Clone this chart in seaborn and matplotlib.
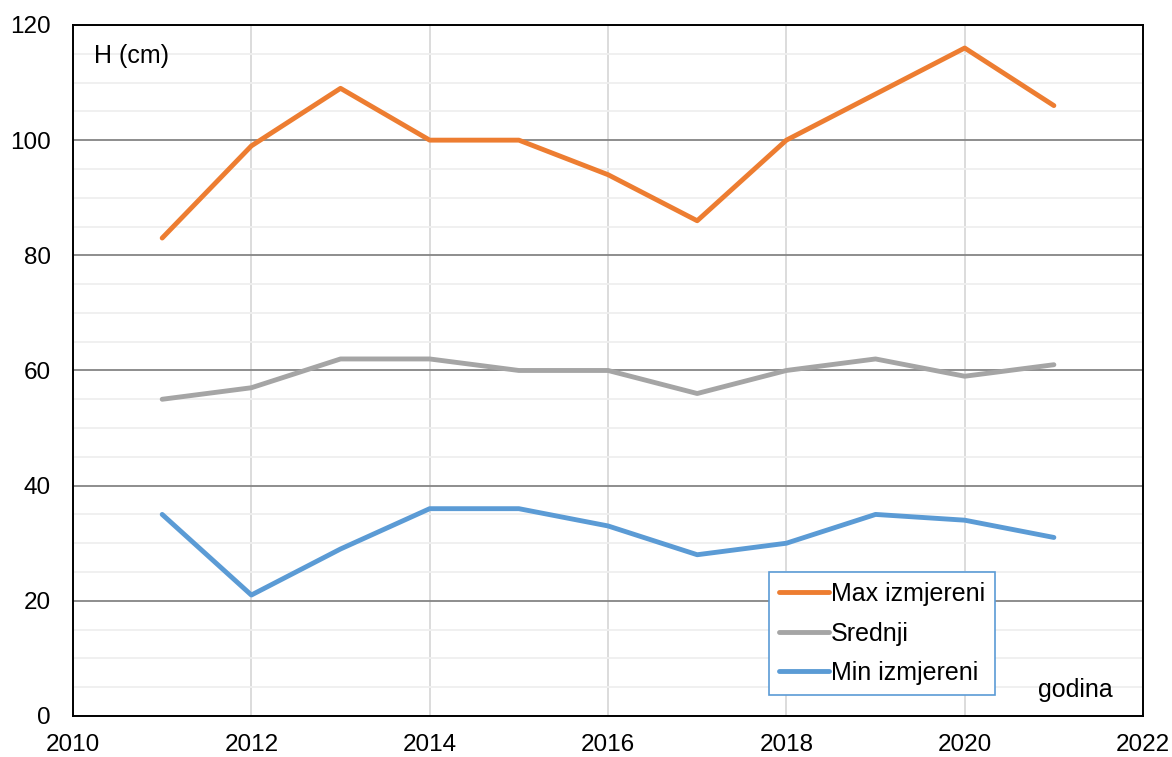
import numpy as np
import pandas as pd
import seaborn as sns
import matplotlib.pyplot as plt
from matplotlib.ticker import MultipleLocator

years = [2011, 2012, 2013, 2014, 2015, 2016, 2017, 2018, 2019, 2020, 2021]
max_izmjereni = [83, 99, 109, 100, 100, 94, 86, 100, 108, 116, 106]
srednji = [55, 57, 62, 62, 60, 60, 56, 60, 62, 59, 61]
min_izmjereni = [35, 21, 29, 36, 36, 33, 28, 30, 35, 34, 31]

series_names = ["Max izmjereni", "Srednji", "Min izmjereni"]
colors = ["#ED7D31", "#A5A5A5", "#5B9BD5"]

df = pd.DataFrame({
    "godina": years * 3,
    "H": max_izmjereni + srednji + min_izmjereni,
    "serija": [series_names[0]] * len(years) + [series_names[1]] * len(years) + [series_names[2]] * len(years),
})

sns.set_style("white")
plt.rcParams["font.family"] = ["Liberation Sans", "DejaVu Sans"]
plt.rcParams["text.color"] = "black"

fig = plt.figure(figsize=(11.72, 7.57), dpi=100)
ax = fig.add_axes([0.0623, 0.0542, 0.9130, 0.9128])

sns.lineplot(data=df, x="godina", y="H", hue="serija", hue_order=series_names,
             palette=colors, linewidth=3.5, ax=ax, legend=True)

ax.set_xlim(2010, 2022)
ax.set_ylim(0, 120)
ax.xaxis.set_major_locator(MultipleLocator(2))
ax.yaxis.set_major_locator(MultipleLocator(20))
ax.yaxis.set_minor_locator(MultipleLocator(5))

# gridlines: light vertical, dark major horizontal, very light minor
ax.set_axisbelow(True)
ax.grid(False)
ax.grid(axis="x", which="major", color="#D9D9D9", linewidth=1.3)
ax.grid(axis="y", which="minor", color="#EFEFEF", linewidth=1.3)
ax.grid(axis="y", which="major", color="#858585", linewidth=1.3)

for s in ax.spines.values():
    s.set_color("black")
    s.set_linewidth(1.4)

ax.tick_params(axis="both", which="both", length=0, labelsize=17.5, colors="black")
ax.tick_params(axis="y", pad=16)
ax.tick_params(axis="x", pad=13)
ax.set_xlabel("")
ax.set_ylabel("")

ax.text(0.0196, 0.955, "H (cm)", transform=ax.transAxes, fontsize=18, va="center", ha="left")
ax.text(0.972, 0.038, "godina", transform=ax.transAxes, fontsize=18, va="center", ha="right")

leg = ax.legend(loc="lower left", bbox_to_anchor=(0.650, 0.030), borderaxespad=0,
                fontsize=18, frameon=True, fancybox=False, framealpha=1.0, handlelength=2.0,
                handletextpad=0.1, labelspacing=0.62, borderpad=0.4)
leg.get_frame().set_edgecolor("#5B9BD5")
leg.get_frame().set_linewidth(1.2)
for line in leg.get_lines():
    line.set_linewidth(3.5)
for t in leg.get_texts():
    t.set_color("black")

fig.savefig("out.png", dpi=100)
